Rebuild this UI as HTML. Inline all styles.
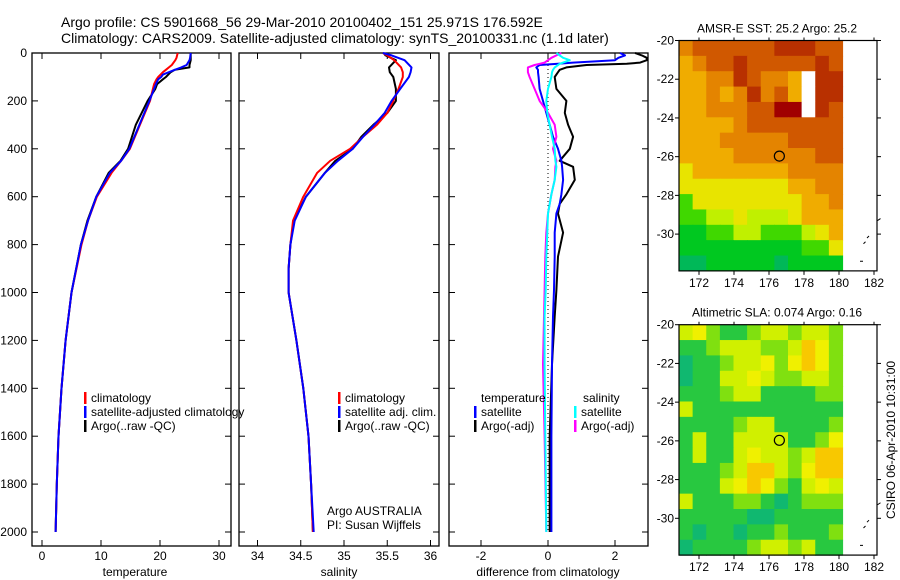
<!DOCTYPE html>
<html><head><meta charset="utf-8"><style>
html,body{margin:0;padding:0;background:#fff}
svg{display:block;font-family:"Liberation Sans",sans-serif}
</style></head><body>
<svg id="s" width="900" height="580" viewBox="0 0 900 580" xmlns="http://www.w3.org/2000/svg">
<text x="61" y="27" font-size="14">Argo profile: CS 5901668_56 29-Mar-2010 20100402_151 25.971S 176.592E</text>
<text x="61" y="43" font-size="14">Climatology: CARS2009. Satellite-adjusted climatology: synTS_20100331.nc (1.1d later)</text>
<g id="g"></g>
</svg>
<script>
// ---- depth grids and series (data) ----
const depthT = [0,20,30,50,60,70,80,90,100,110,130,150,200,300,400,450,500,600,700,800,1000,1200,1400,1600,1800,2000];
const tempClim = [23.0,22.8,22.6,22.0,21.5,21.0,20.5,20.1,19.7,19.4,19.0,18.8,18.3,16.6,14.9,13.4,11.8,9.3,7.8,6.7,5.0,4.0,3.3,2.8,2.5,2.3];
const tempSat  = [25.2,25.1,25.0,24.5,23.6,22.5,21.5,20.5,20.2,19.7,19.3,19.0,18.2,16.5,14.8,13.4,11.5,9.2,7.8,6.6,5.0,4.0,3.3,2.8,2.5,2.3];
const tempArgo = [25.2,25.2,25.2,25.0,25.0,22.5,21.8,21.4,21.0,20.5,19.5,19.2,17.9,15.9,14.6,13.3,11.3,9.2,7.7,6.6,5.0,4.0,3.3,2.8,2.5,2.3];
const depthS = [0,10,30,60,80,100,150,200,250,300,350,400,450,500,600,700,800,900,1000,1200,1400,1600,1800,2000];
const salClim = [35.45,35.5,35.58,35.66,35.68,35.68,35.63,35.57,35.5,35.38,35.22,35.07,34.84,34.69,34.53,34.41,34.38,34.36,34.36,34.45,34.53,34.59,34.62,34.64];
const salSat  = [35.45,35.55,35.7,35.78,35.77,35.75,35.65,35.55,35.47,35.35,35.22,35.1,34.93,34.78,34.56,34.43,34.38,34.36,34.36,34.45,34.53,34.59,34.62,34.65];
const salArgo = [35.46,35.48,35.6,35.52,35.53,35.57,35.6,35.6,35.5,35.34,35.2,35.1,34.9,34.78,34.56,34.42,34.38,34.36,34.36,34.45,34.53,34.59,34.62,34.64];
const depthD = [0,10,20,30,40,45,50,60,70,80,100,150,200,250,300,350,400,450,475,530,590,630,670,750,850,990,1100,1300,1600,2000];
const diffTSat  = [2.15,2.3,2.1,2.0,0.75,0.3,-0.25,-0.35,-0.3,-0.3,-0.28,-0.25,-0.15,-0.05,0.05,0.15,0.3,0.4,0.42,0.45,0.4,0.35,0.25,0.2,0.2,0.18,0.15,0.12,0.1,0.1];
const diffTArgo = [2.6,2.8,2.95,2.95,2.75,2.35,1.15,0.55,0.35,0.3,0.2,0.25,0.55,0.5,0.6,0.75,0.65,0.35,0.75,0.8,0.55,0.35,0.3,0.45,0.3,0.25,0.2,0.12,0.05,0.05];
const diffSSat  = [0.25,0.35,0.45,0.65,0.45,0.35,0.3,0.2,0.15,0.12,0.1,0.0,-0.05,-0.02,0.05,0.12,0.2,0.22,0.25,0.2,0.1,0.05,0.0,-0.02,-0.05,-0.07,-0.1,-0.1,-0.08,-0.05];
const diffSArgo = [0.4,0.25,0.1,0.0,-0.1,-0.25,-0.4,-0.6,-0.6,-0.6,-0.55,-0.4,-0.25,0.0,0.2,0.25,0.15,0.25,0.22,0.2,0.1,0.05,0.0,-0.05,-0.08,-0.1,-0.12,-0.15,-0.1,-0.05];
const depthTicks = [0,200,400,600,800,1000,1200,1400,1600,1800,2000];
const tempTicks = [0,10,20,30];
const salTicks = [34,34.5,35,35.5,36];
const diffTicks = [-2,0,2];
const lonTicks = [172,174,176,178,180,182];
const latTicks = [-20,-22,-24,-26,-28,-30];
const sstGrid = ["cbbbbbbaaabb","dcbbabbbbbab","ddccabccdWaa","ddcdcacbdWaa","ddcccbbAAWab","ddddcbbbbbbb","dddcccccbbbb","ddddccccccbb","edddddddcccc","eeeeeeeeddcc","geeeeeeeeddc","ggffefffeddd","hhggffgggfed","hhhhhhhhhgge","iihhhhhihhhh"];
const slaGrid = ["yYlgglyylyyl","gglyyyllyoYl","tgglyyYlYoYl","tggyyYyllyyl","ggglyyggggll","yggggggggggg","gggglyyggggl","gyggyyyygglY","gyggyYyylyoo","ggglyooylYoo","gggyYoYlgyYy","ygggllgtglll","gggggttggggg","gtggtgglgggl","tgggglyylygg"];

const NS="http://www.w3.org/2000/svg", G=document.getElementById('g');
function mk(tag, at, parent){const e=document.createElementNS(NS,tag);for(const k in at)e.setAttribute(k,at[k]);(parent||G).appendChild(e);return e;}
const yD = d => 53 + d*0.2395;
const PT=53, PB=546;
const xT = v => 42 + v*5.9;
const xS = v => 257.5 + (v-34)*86.5;
const xDf = v => 548 + v*33.5;

function panel(name,x0,x1,xs,ticks,label,labelTxt,showY){
  const r=mk('rect',{x:x0,y:PT,width:x1-x0,height:PB-PT,fill:'none',stroke:'#000','stroke-width':1.3});
  
  
  depthTicks.forEach(d=>{
    mk('line',{x1:x0,x2:x0+6,y1:yD(d),y2:yD(d),stroke:'#000'});
    mk('line',{x1:x1,x2:x1-6,y1:yD(d),y2:yD(d),stroke:'#000'});
    if(showY){const t=mk('text',{x:x0-5,y:yD(d)+4,'font-size':12,'text-anchor':'end'});t.textContent=d;
      
      }
  });
  ticks.forEach(v=>{
    mk('line',{x1:xs(v),x2:xs(v),y1:PT,y2:PT+6,stroke:'#000'});
    mk('line',{x1:xs(v),x2:xs(v),y1:PB,y2:PB-6,stroke:'#000'});
    const t=mk('text',{x:xs(v),y:560,'font-size':12,'text-anchor':'middle'});t.textContent=v;
    
    
  });
  const t=mk('text',{x:label,y:576,'font-size':12,'text-anchor':'middle'});t.textContent=labelTxt;
  
  
}
function line(name,xs,vals,ds,col,w){
  const p=vals.map((v,i)=>(i?'L':'M')+xs(v).toFixed(1)+','+yD(ds[i]).toFixed(1)).join('');
  const e=mk('path',{d:p,fill:'none',stroke:col,'stroke-width':w||2,'stroke-linejoin':'round'});
  
  
}
function leg(name,x,y,col,txt){
  mk('rect',{x:x,y:y-10,width:2.5,height:12,fill:col});
  const t=mk('text',{x:x+7,y:y,'font-size':12});t.textContent=txt;
  
  
}
panel('temperature-panel',32,231,xT,tempTicks,135,'temperature',true);
panel('salinity-panel',239,439,xS,salTicks,339,'salinity',false);
panel('difference-panel',449,648,xDf,diffTicks,548,'difference from climatology',false);

line('temp-argo-line',xT,tempArgo,depthT,'#000');
line('temp-climatology-line',xT,tempClim,depthT,'#f00');
line('temp-satellite-line',xT,tempSat,depthT,'#00f');
line('sal-argo-line',xS,salArgo,depthS,'#000');
line('sal-climatology-line',xS,salClim,depthS,'#f00');
line('sal-satellite-line',xS,salSat,depthS,'#00f');
const z=mk('line',{x1:548,x2:548,y1:PT,y2:yD(2000),stroke:'#000','stroke-dasharray':'1,3'});


line('diff-temp-argo-line',xDf,diffTArgo,depthD,'#000');
line('diff-temp-satellite-line',xDf,diffTSat,depthD,'#00f');
line('diff-sal-argo-line',xDf,diffSArgo,depthD,'#f0f');
line('diff-sal-satellite-line',xDf,diffSSat,depthD,'#0ff');

leg('legend-climatology',84,402,'#f00','climatology');
leg('legend-satellite-adjusted',84,416,'#00f','satellite-adjusted climatology');
leg('legend-argo',84,430,'#000','Argo(..raw -QC)');
leg('legend-sal-climatology',338,402,'#f00','climatology');
leg('legend-sal-satellite',338,416,'#00f','satellite adj. clim.');
leg('legend-sal-argo',338,430,'#000','Argo(..raw -QC)');
let t=mk('text',{x:481,y:402,'font-size':12});t.textContent='temperature';


t=mk('text',{x:583,y:402,'font-size':12});t.textContent='salinity';


leg('legend-diff-temp-satellite',474,416,'#00f','satellite');
leg('legend-diff-temp-argo',474,430,'#000','Argo(-adj)');
leg('legend-diff-sal-satellite',574,416,'#0ff','satellite');
leg('legend-diff-sal-argo',574,430,'#f0f','Argo(-adj)');
t=mk('text',{x:327,y:515,'font-size':12});t.textContent='Argo AUSTRALIA';


t=mk('text',{x:327,y:529,'font-size':12});t.textContent='PI: Susan Wijffels';



// maps
const sstCol={A:'#a00000',a:'#b83000',b:'#d05800',c:'#e48400',d:'#f0ac00',e:'#e8e400',f:'#c0f000',g:'#40d800',h:'#00c820',i:'#00b858',W:'#ffffff'};
const slaCol={t:'#10b870',g:'#28c840',l:'#80e010',y:'#d0f000',Y:'#f0f000',o:'#f8c800'};
function map(name,top,grid,cols,title){
  const pxLon=17.5, pxLat=19.36;
  const xL=lon=>699+(lon-172)*pxLon;
  const yL=lat=>top+(-20-lat)*pxLat;
  const x0=679, x1=877, yb=yL(-31.9);
  const cw=(xL(180.2)-x0)/grid[0].length, ch=(yb-top)/grid.length;
  grid.forEach((row,r)=>{for(let c=0;c<row.length;c++){
    mk('rect',{x:(x0+c*cw).toFixed(2),y:(top+r*ch).toFixed(2),width:(cw+0.6).toFixed(2),height:(ch+0.6).toFixed(2),fill:cols[row[c]]});
  }});
  const f=mk('rect',{x:x0,y:top,width:x1-x0,height:yb-top,fill:'none',stroke:'#000','stroke-width':1.2});
  
  
  const c=mk('circle',{cx:xL(176.592),cy:yL(-25.971),r:5,fill:'none',stroke:'#000','stroke-width':1.2});
  
  
  mk('path',{d:`M${xL(181.2)},${yL(-31.4)}h3M${xL(181.4)},${yL(-30.5)}l2,-2M${xL(181.6)},${yL(-30.2)}l2,-2M${xL(182.2)},${yL(-29.3)}l3,-2`,stroke:'#000',fill:'none'});
  lonTicks.forEach(v=>{
    mk('line',{x1:xL(v),x2:xL(v),y1:yb,y2:yb+4,stroke:'#000'});
    mk('line',{x1:xL(v),x2:xL(v),y1:top,y2:top-3,stroke:'#000'});
    const tt=mk('text',{x:xL(v),y:yb+16,'font-size':12,'text-anchor':'middle'});tt.textContent=v;
    
    
  });
  latTicks.forEach(v=>{
    mk('line',{x1:x0,x2:x0-4,y1:yL(v),y2:yL(v),stroke:'#000'});
    mk('line',{x1:x1,x2:x1+4,y1:yL(v),y2:yL(v),stroke:'#000'});
    const tt=mk('text',{x:x0-5,y:yL(v)+4,'font-size':12,'text-anchor':'end'});tt.textContent=v;
    
    
  });
  const tt=mk('text',{x:777,y:top-8,'font-size':12,'text-anchor':'middle'});tt.textContent=title;
  
  
}
map('sst-map',40.5,sstGrid,sstCol,'AMSR-E SST: 25.2 Argo: 25.2');
map('sla-map',324.7,slaGrid,slaCol,'Altimetric SLA: 0.074 Argo: 0.16');
t=mk('text',{x:0,y:0,'font-size':12,'text-anchor':'middle',transform:'translate(895,440) rotate(-90)'});t.textContent='CSIRO 06-Apr-2010 10:31:00';


</script>
</body></html>
